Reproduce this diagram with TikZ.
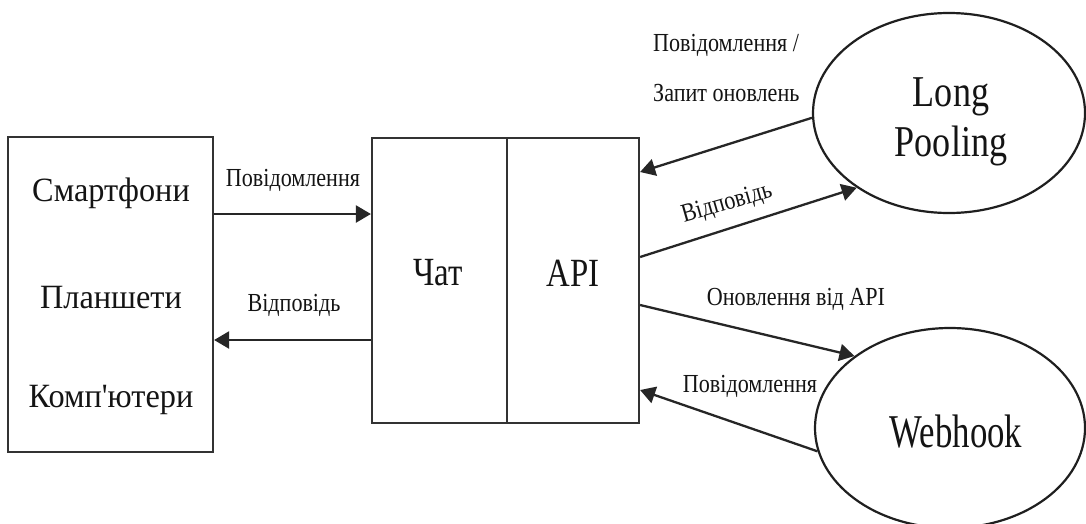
\documentclass[tikz,border=0pt]{standalone}
\usepackage{fontspec}
\setmainfont{Liberation Serif}
\newfontfamily\myfDev[FakeStretch=0.95]{Liberation Serif}
\newfontfamily\myfMid[FakeStretch=0.82]{Liberation Serif}
\newfontfamily\myfLP[FakeStretch=0.82]{Liberation Serif}
\newfontfamily\myfWH[FakeStretch=0.74]{Liberation Serif}
\newfontfamily\myfS[FakeStretch=0.85]{Liberation Serif}
\usetikzlibrary{arrows.meta,shapes.geometric}
\begin{document}
\begin{tikzpicture}[x=1pt,y=-1pt,
  arr/.style={-{Triangle[length=15pt,width=17pt]}, line width=2.3pt, draw=black!85},
  box/.style={draw=black!80, rectangle, inner sep=0pt, line width=2.2pt},
  oval/.style={draw=black!88, ellipse, inner sep=0pt, line width=2.2pt},
  lbl/.style={inner sep=0pt, text=black!92, font=\myfS\fontsize{26}{30}\selectfont},
  devtext/.style={inner sep=0pt, text=black!92, font=\myfDev\fontsize{34}{38}\selectfont},
  midtext/.style={inner sep=0pt, text=black!92, font=\myfMid\fontsize{40}{44}\selectfont},
  lptext/.style={inner sep=0pt, text=black!92, align=center, font=\myfLP\fontsize{44}{50}\selectfont},
  whtext/.style={inner sep=0pt, text=black!92, font=\myfWH\fontsize{47}{50}\selectfont}]
\useasboundingbox (0,0) rectangle (1086,523);
\clip (0,0) rectangle (1086,523);
\fill[white] (0,0) rectangle (1086,523);

% left box
\node[box, minimum width=205pt, minimum height=315pt] (dev) at (110.5,294.5) {};
\node[devtext] (t1) at (111,193) {Смартфони};
\node[devtext] (t2) at (111,298) {Планшети};
\node[devtext] (t3) at (111,400) {Комп'ютери};

% middle box
\node[box, minimum width=135pt, minimum height=285pt] (chat) at (439.5,280.5) {};
\node[box, minimum width=132pt, minimum height=285pt] (api) at (573,280.5) {};
\node[midtext] (tchat) at (438,273) {Чат};
\node[midtext] (tapi) at (573,273) {API};

% ellipses
\node[oval, minimum width=272pt, minimum height=200pt] (lp) at (949,113) {};
\node[lptext] (tlp) at (951,122) {Long\\Pooling};
\node[oval, minimum width=270pt, minimum height=200pt] (wh) at (950,428) {};
\node[whtext] (twh) at (956,432) {Webhook};

% connectors
\draw[arr] (dev.east |- 0,214) -- (chat.west |- 0,214);
\draw[arr] (chat.west |- 0,340) -- (dev.east |- 0,340);
\draw[arr] (lp.182) -- (api.east |- 0,172);
\draw[arr] (api.east |- 0,257) -- (lp.219);
\draw[arr] (api.east |- 0,305) -- (wh.143);
\draw[arr] (wh.190) -- (api.east |- 0,390);

% labels
\node[lbl] (l1) at (293,180) {Повідомлення};
\node[lbl] (l2) at (294,305) {Відповідь};
\node[lbl, anchor=west] (l3) at (653,45) {Повідомлення /};
\node[lbl, anchor=west] (l4) at (653,93) {Запит оновлень};
\node[lbl, rotate=16] (l5) at (727,204) {Відповідь};
\node[lbl] (l6) at (796,299) {Оновлення від API};
\node[lbl] (l7) at (750,386) {Повідомлення};
\end{tikzpicture}
\end{document}
